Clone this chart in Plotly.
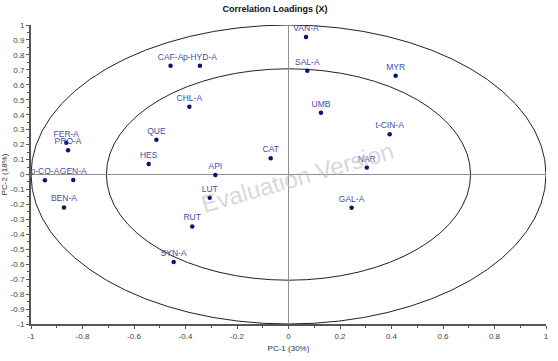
import numpy as np
import plotly.graph_objects as go

# ---- data ----
labels = ["VAN-A", "SAL-A", "MYR", "UMB", "t-CIN-A", "NAR", "CAT", "GAL-A",
          "CAF-A", "p-HYD-A", "CHL-A", "QUE", "HES", "API", "FER-A", "PRO-A",
          "p-CO-A", "GEN-A", "BEN-A", "LUT", "RUT", "SYN-A"]
pc1 = [0.068, 0.073, 0.416, 0.126, 0.393, 0.304, -0.069, 0.245,
       -0.458, -0.344, -0.385, -0.513, -0.543, -0.284, -0.863, -0.856,
       -0.946, -0.836, -0.872, -0.306, -0.374, -0.446]
pc2 = [0.92, 0.694, 0.661, 0.413, 0.269, 0.046, 0.108, -0.222,
       0.728, 0.728, 0.454, 0.233, 0.070, -0.003, 0.213, 0.162,
       -0.039, -0.037, -0.22, -0.155, -0.347, -0.585]

x_ticks = [-1, -0.8, -0.6, -0.4, -0.2, 0, 0.2, 0.4, 0.6, 0.8, 1]
x_tick_text = ["-1", "-0.8", "-0.6", "-0.4", "-0.2", "0", "0.2", "0.4", "0.6", "0.8", "1"]
y_ticks = [1, 0.9, 0.8, 0.7, 0.6, 0.5, 0.4, 0.3, 0.2, 0.1, 0,
           -0.1, -0.2, -0.3, -0.4, -0.5, -0.6, -0.7, -0.8, -0.9, -1]
y_tick_text = ["1", "0.9", "0.8", "0.7", "0.6", "0.5", "0.4", "0.3", "0.2", "0.1", "0",
               "-0.1", "-0.2", "-0.3", "-0.4", "-0.5", "-0.6", "-0.7", "-0.8", "-0.9", "-1"]
ellipse_radii = [1.0, 0.7071]

title = "Correlation Loadings (X)"
x_title = "PC-1 (30%)"
y_title = "PC-2 (18%)"
watermark = "Evaluation Version"

FONT = "Liberation Sans, Arial, sans-serif"

fig = go.Figure()

fig.add_trace(go.Scatter(
    x=pc1, y=pc2, mode="markers+text", text=labels,
    textposition="top center",
    textfont=dict(family=FONT, size=8.5, color="#4a4aa8"),
    marker=dict(size=4.5, color="#10107a"),
    cliponaxis=False, hoverinfo="text", showlegend=False,
))

for r in ellipse_radii:
    fig.add_shape(type="circle", xref="x", yref="y",
                  x0=-r, x1=r, y0=-r, y1=r,
                  line=dict(color="#222222", width=1), layer="below")

fig.add_annotation(x=0.033, y=-0.017, xref="x", yref="y",
                   text=watermark, showarrow=False, textangle=-16,
                   font=dict(family=FONT, size=24, color="rgba(190,190,190,0.6)"))

fig.update_layout(
    width=558, height=361,
    margin=dict(l=31, r=12, t=25, b=37, autoexpand=False),
    paper_bgcolor="white", plot_bgcolor="white",
    font=dict(family=FONT, size=8, color="#333333"),
    title=dict(text="<b>" + title + "</b>", x=0.493, xanchor="center",
               y=0.975, yanchor="middle",
               font=dict(family=FONT, size=9, color="#111111")),
    xaxis=dict(range=[-1, 1], autorange=False, showgrid=False, automargin=False,
               zeroline=True, zerolinecolor="#909090", zerolinewidth=1,
               showline=True, linecolor="#555555", linewidth=2,
               ticks="outside", ticklen=3, tickcolor="#555555",
               tickvals=x_ticks, ticktext=x_tick_text,
               tickfont=dict(size=8, color="#444444"),
               minor=dict(ticks="outside", ticklen=2, dtick=0.1, tickcolor="#555555"),
               title=dict(text=x_title, font=dict(size=8, color="#333333"), standoff=6)),
    yaxis=dict(range=[-1, 1], autorange=False, showgrid=False, automargin=False,
               zeroline=True, zerolinecolor="#909090", zerolinewidth=1,
               showline=True, linecolor="#555555", linewidth=2,
               ticks="outside", ticklen=3, tickcolor="#555555",
               tickvals=y_ticks, ticktext=y_tick_text,
               tickfont=dict(size=8, color="#444444"),
               minor=dict(ticks="outside", ticklen=2, dtick=0.05, tickcolor="#555555"),
               title=dict(text=y_title, font=dict(size=8, color="#333333"), standoff=2)),
)

fig.write_html("out.html")
